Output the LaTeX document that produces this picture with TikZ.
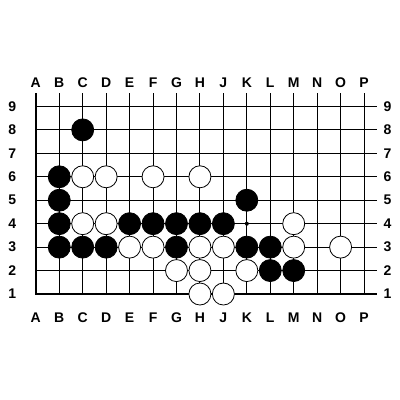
\documentclass[tikz,border=0pt]{standalone}
\usepackage{fontspec}
\setmainfont{Liberation Sans}

\begin{document}
\begin{tikzpicture}[
  x=23.45pt, y=23.45pt,
  gridline/.style={line width=0.9pt},
  edgeline/.style={line width=2.4pt, line join=miter},
  bstone/.style={circle, draw, fill=black, line width=0.8pt, minimum size=22pt, inner sep=0pt},
  wstone/.style={circle, draw, fill=white, line width=0.8pt, minimum size=22pt, inner sep=0pt},
  lbl/.style={font=\bfseries\fontsize{14}{14}\selectfont, inner sep=0pt}
]
  \useasboundingbox (-1.527,-4.52) rectangle (15.53,12.54);
  % board lines
  \foreach \c in {1,...,14} \draw[gridline] (\c,0) -- (\c,8.57);
  \foreach \r in {1,...,8} \draw[gridline] (0,\r) -- (14.55,\r);
  \draw[edgeline] (0,8.57) -- (0,0) -- (14.55,0);
  % star point
  \fill (9,3) circle (2pt);
  % coordinates
  \foreach \l [count=\i from 0] in {A,B,C,D,E,F,G,H,J,K,L,M,N,O,P} {
    \node[lbl] (top-\l) at (\i,9) {\l};
    \node[lbl] (bot-\l) at (\i,-1) {\l};
  }
  \foreach \r in {1,...,9} {
    \node[lbl] (left-\r) at (-1,\r-1) {\r};
    \node[lbl] (right-\r) at (15,\r-1) {\r};
  }
  % black stones
  \foreach \c/\r [count=\n] in {2/7, 1/5, 1/4, 1/3, 1/2, 2/2, 3/2, 4/3, 5/3, 6/3, 7/3, 8/3,
                                6/2, 9/4, 9/2, 10/2, 10/1, 11/1}
    \node[bstone] (b\n) at (\c,\r) {};
  % white stones
  \foreach \c/\r [count=\n] in {2/5, 3/5, 5/5, 7/5, 2/3, 3/3, 11/3, 4/2, 5/2, 7/2, 8/2,
                                11/2, 13/2, 6/1, 7/1, 9/1, 7/0, 8/0}
    \node[wstone] (w\n) at (\c,\r) {};
\end{tikzpicture}
\end{document}
